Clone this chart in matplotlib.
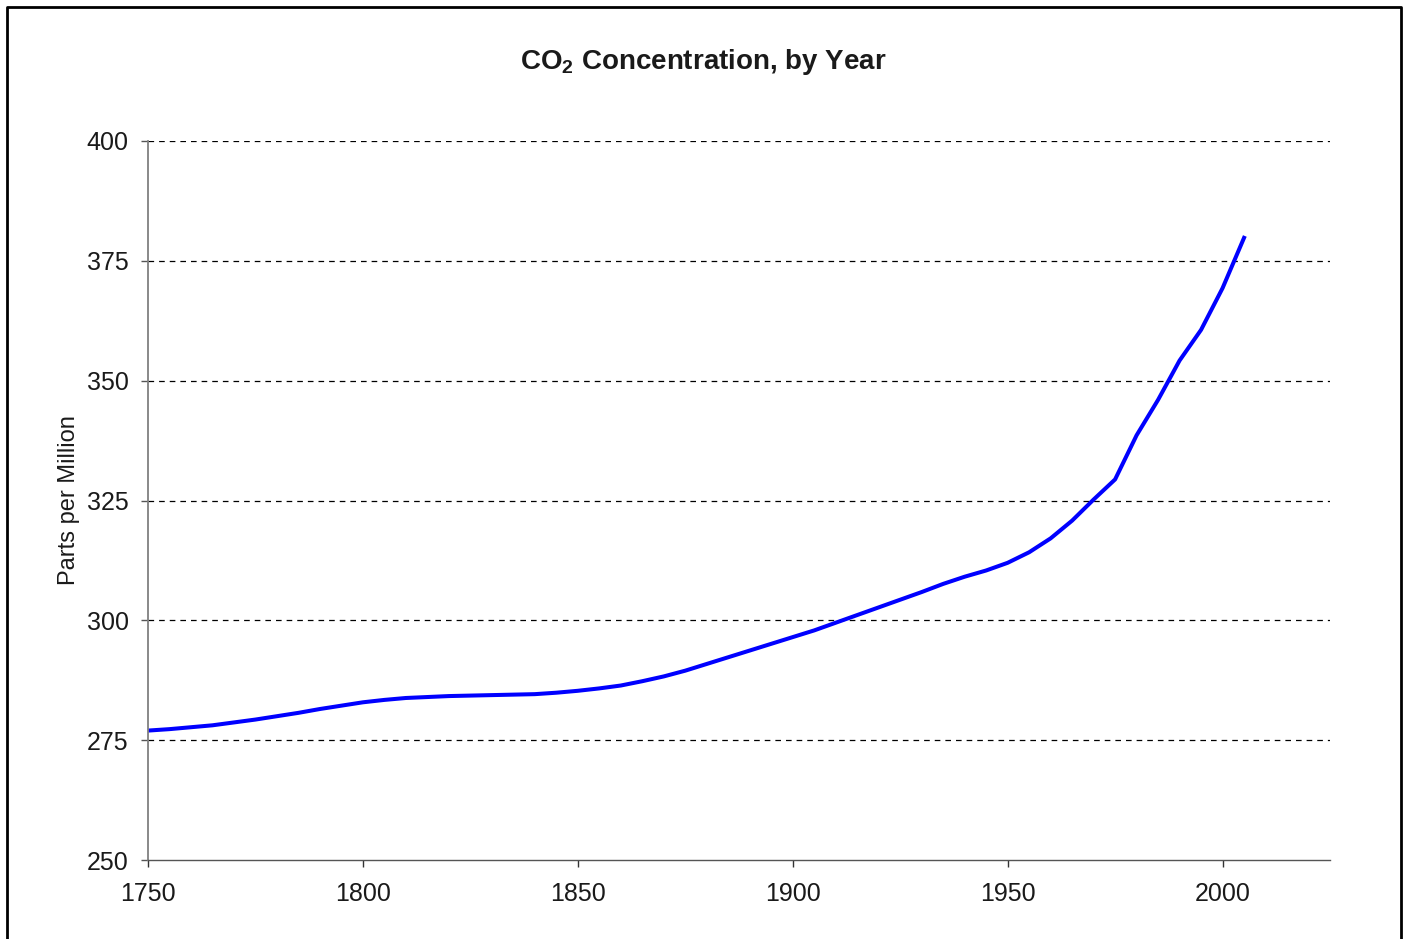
import numpy as np
import matplotlib
matplotlib.use("Agg")
import matplotlib.pyplot as plt
from matplotlib.lines import Line2D

plt.rcParams["font.family"] = ["Liberation Sans", "DejaVu Sans"]
plt.rcParams["mathtext.fontset"] = "custom"
plt.rcParams["mathtext.rm"] = "Liberation Sans:bold"
plt.rcParams["mathtext.bf"] = "Liberation Sans:bold"

# CO2 concentration (ppm), every 5 years
years = list(range(1750, 2006, 5))
ppm = [
    277.0, 277.3, 277.7, 278.1, 278.7, 279.3, 280.0, 280.7, 281.5, 282.2,
    282.9, 283.4, 283.8, 284.0, 284.2, 284.3, 284.4, 284.5, 284.6, 284.9,
    285.3, 285.8, 286.4, 287.3, 288.3, 289.5, 290.9, 292.3, 293.7, 295.1,
    296.5, 297.9, 299.5, 301.1, 302.7, 304.3, 305.9, 307.6, 309.1, 310.4,
    312.0, 314.2, 317.1, 320.8, 325.2, 329.4, 338.6, 346.0, 354.2, 360.6,
    369.3, 379.8,
]
x_ticks = [1750, 1800, 1850, 1900, 1950, 2000]
y_ticks = [250, 275, 300, 325, 350, 375, 400]

W, H = 1406, 939
fig = plt.figure(figsize=(W / 100, H / 100), dpi=100)
ax = fig.add_axes([148 / W, 1 - 860 / H, (1330 - 148) / W, (860 - 141) / H])

ax.plot(years, ppm, color="#0000ff", lw=2.9, solid_joinstyle="round")

ax.set_xlim(1750, 2025)
ax.set_ylim(250, 400)
ax.set_xticks(x_ticks)
ax.set_yticks(y_ticks)

for y in y_ticks[1:]:
    ax.axhline(y, color="black", lw=0.9, ls=(0, (4.5, 4.0)), zorder=0)

for s in ["top", "right"]:
    ax.spines[s].set_visible(False)
ax.spines["left"].set_color("#808080")
ax.spines["left"].set_linewidth(1.3)
ax.spines["bottom"].set_color("#555555")
ax.spines["bottom"].set_linewidth(1.0)

ax.tick_params(axis="y", direction="out", length=5, width=1, color="#555555",
               labelsize=18, pad=9, labelcolor="#1a1a1a")
ax.tick_params(axis="x", direction="out", length=5, width=1, color="#333333",
               labelsize=18, pad=11, labelcolor="#1a1a1a")

ax.set_ylabel("Parts per Million", fontsize=17, color="#1a1a1a", labelpad=5)

fig.text(0.5, 1 - 62 / H, r"CO$_\mathbf{2}$ Concentration, by Year",
         ha="center", va="center", fontsize=20, fontweight="bold", color="#1a1a1a")

# outer frame
fig.add_artist(Line2D([7 / W, 7 / W, 1401 / W, 1401 / W], [0, 1 - 7 / H, 1 - 7 / H, 0],
                      transform=fig.transFigure, color="black", lw=2))

fig.savefig("out.png", dpi=100)
